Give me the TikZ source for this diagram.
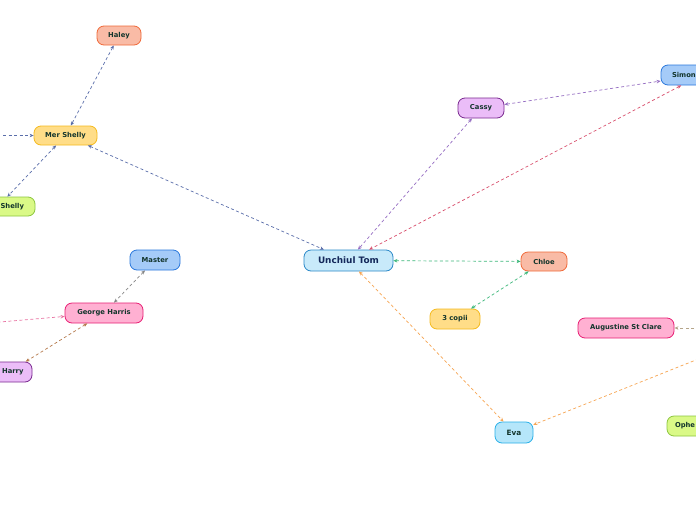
\documentclass[tikz,border=0pt]{standalone}
\usepackage{fontspec}
\setmainfont{DejaVu Sans}
\usetikzlibrary{arrows.meta}
\definecolor{txt}{HTML}{13352C}
\definecolor{tomtxt}{HTML}{14285A}
\definecolor{salF}{HTML}{F9BBA6}\definecolor{salD}{HTML}{F06A3A}
\definecolor{yelF}{HTML}{FFDD88}\definecolor{yelD}{HTML}{F5BA1E}
\definecolor{limF}{HTML}{DAF987}\definecolor{limD}{HTML}{8DC63F}
\definecolor{bluF}{HTML}{A5CBF8}\definecolor{bluD}{HTML}{2A78DC}
\definecolor{pnkF}{HTML}{FFB0D2}\definecolor{pnkD}{HTML}{E81E74}
\definecolor{vioF}{HTML}{EBBDF8}\definecolor{vioD}{HTML}{7A2A90}
\definecolor{tomF}{HTML}{C8EAFA}\definecolor{tomD}{HTML}{2A88C8}
\definecolor{evaF}{HTML}{B5E6FA}\definecolor{evaD}{HTML}{29B0E8}
\definecolor{cSlate}{RGB}{90,110,170}
\definecolor{cGray}{RGB}{135,135,135}
\definecolor{cPink}{RGB}{232,112,160}
\definecolor{cBrown}{RGB}{181,120,74}
\definecolor{cPurp}{RGB}{150,110,195}
\definecolor{cRed}{RGB}{217,80,110}
\definecolor{cGreen}{RGB}{60,184,122}
\definecolor{cOrange}{RGB}{247,165,82}
\definecolor{cTan}{RGB}{181,165,138}
\tikzset{
  box/.style={draw, rounded corners=7pt, line width=0.8pt, minimum height=19pt,
    inner sep=0pt, text=txt, font=\fontsize{6.8}{8}\selectfont\bfseries},
  salmon/.style={box, fill=salF, draw=salD},
  yellow/.style={box, fill=yelF, draw=yelD},
  lime/.style={box, fill=limF, draw=limD},
  blue/.style={box, fill=bluF, draw=bluD},
  pink/.style={box, fill=pnkF, draw=pnkD},
  violet/.style={box, fill=vioF, draw=vioD},
  conn/.style={line width=0.7pt, dash pattern=on 3pt off 2.5pt,
    {Stealth[length=4pt,width=3.5pt]}-{Stealth[length=4pt,width=3.5pt]}},
  into/.style={line width=0.7pt, dash pattern=on 3pt off 2.5pt,
    -{Stealth[length=4pt,width=3.5pt]}}
}
\begin{document}
\begin{tikzpicture}[x=1pt,y=-1pt]
\useasboundingbox (0,0) rectangle (696,520);
\clip (0,0) rectangle (696,520);
\fill[white] (0,0) rectangle (696,520);
% nodes
\node[salmon, minimum width=44pt] (haley) at (119,35.5) {Haley};
\node[yellow, minimum width=63pt] (mer) at (65.5,135.5) {Mer Shelly};
\node[lime, minimum width=74pt, text width=52pt, align=right] (shelly) at (-2,206.5) {Shelly};
\node[blue, minimum width=50pt, minimum height=20pt] (master) at (155,260) {Master};
\node[pink, minimum width=78pt, minimum height=20pt] (george) at (104,313) {George Harris};
\node[violet, minimum width=46pt, minimum height=20pt, text width=29pt, align=right] (harry) at (9,372) {Harry};
\node[box, fill=tomF, draw=tomD, minimum width=89pt, minimum height=21pt, text=tomtxt,
  font=\fontsize{8.9}{10}\selectfont\bfseries] (tom) at (348.5,260.5) {Unchiul Tom};
\node[violet, minimum width=46pt, minimum height=20pt] (cassy) at (481,108) {Cassy};
\node[blue, minimum width=80pt, minimum height=20pt, text width=58pt, align=left] (simon) at (701,75) {Simon};
\node[salmon, minimum width=46pt] (chloe) at (544,261.5) {Chloe};
\node[yellow, minimum width=50pt, minimum height=20pt] (copii) at (455,319) {3 copii};
\node[pink, minimum width=96pt, minimum height=20pt] (aug) at (626,328) {Augustine St Clare};
\node[box, fill=evaF, draw=evaD, minimum width=38pt, minimum height=21pt,
  font=\fontsize{7.3}{8}\selectfont\bfseries] (eva) at (514,432.5) {Eva};
\node[lime, minimum width=60pt, minimum height=20pt, text width=44pt, align=left] (ophe) at (697,426) {Ophe};
% off-canvas ends
\coordinate (offA) at (-30,135.5);
\coordinate (offB) at (-30,324.6);
\coordinate (offC) at (760,334.4);
\coordinate (offD) at (760,328);
% connectors
\draw[conn, cSlate] (haley) -- (mer);
\draw[into, cSlate] (offA) -- (mer);
\draw[conn, cSlate] (mer) -- (shelly);
\draw[conn, cSlate] (mer) -- (tom);
\draw[conn, cGray] (master) -- (george);
\draw[into, cPink] (offB) -- (george);
\draw[conn, cBrown] (george) -- (harry);
\draw[conn, cPurp] (cassy) -- (tom);
\draw[conn, cPurp] (cassy) -- (simon);
\draw[conn, cRed] (simon) -- (tom);
\draw[conn, cGreen] (tom) -- (chloe);
\draw[conn, cGreen] (chloe) -- (copii);
\draw[conn, cOrange] (tom) -- (eva);
\draw[into, cOrange] (offC) -- (eva);
\draw[into, cTan] (offD) -- (aug);
\end{tikzpicture}
\end{document}
